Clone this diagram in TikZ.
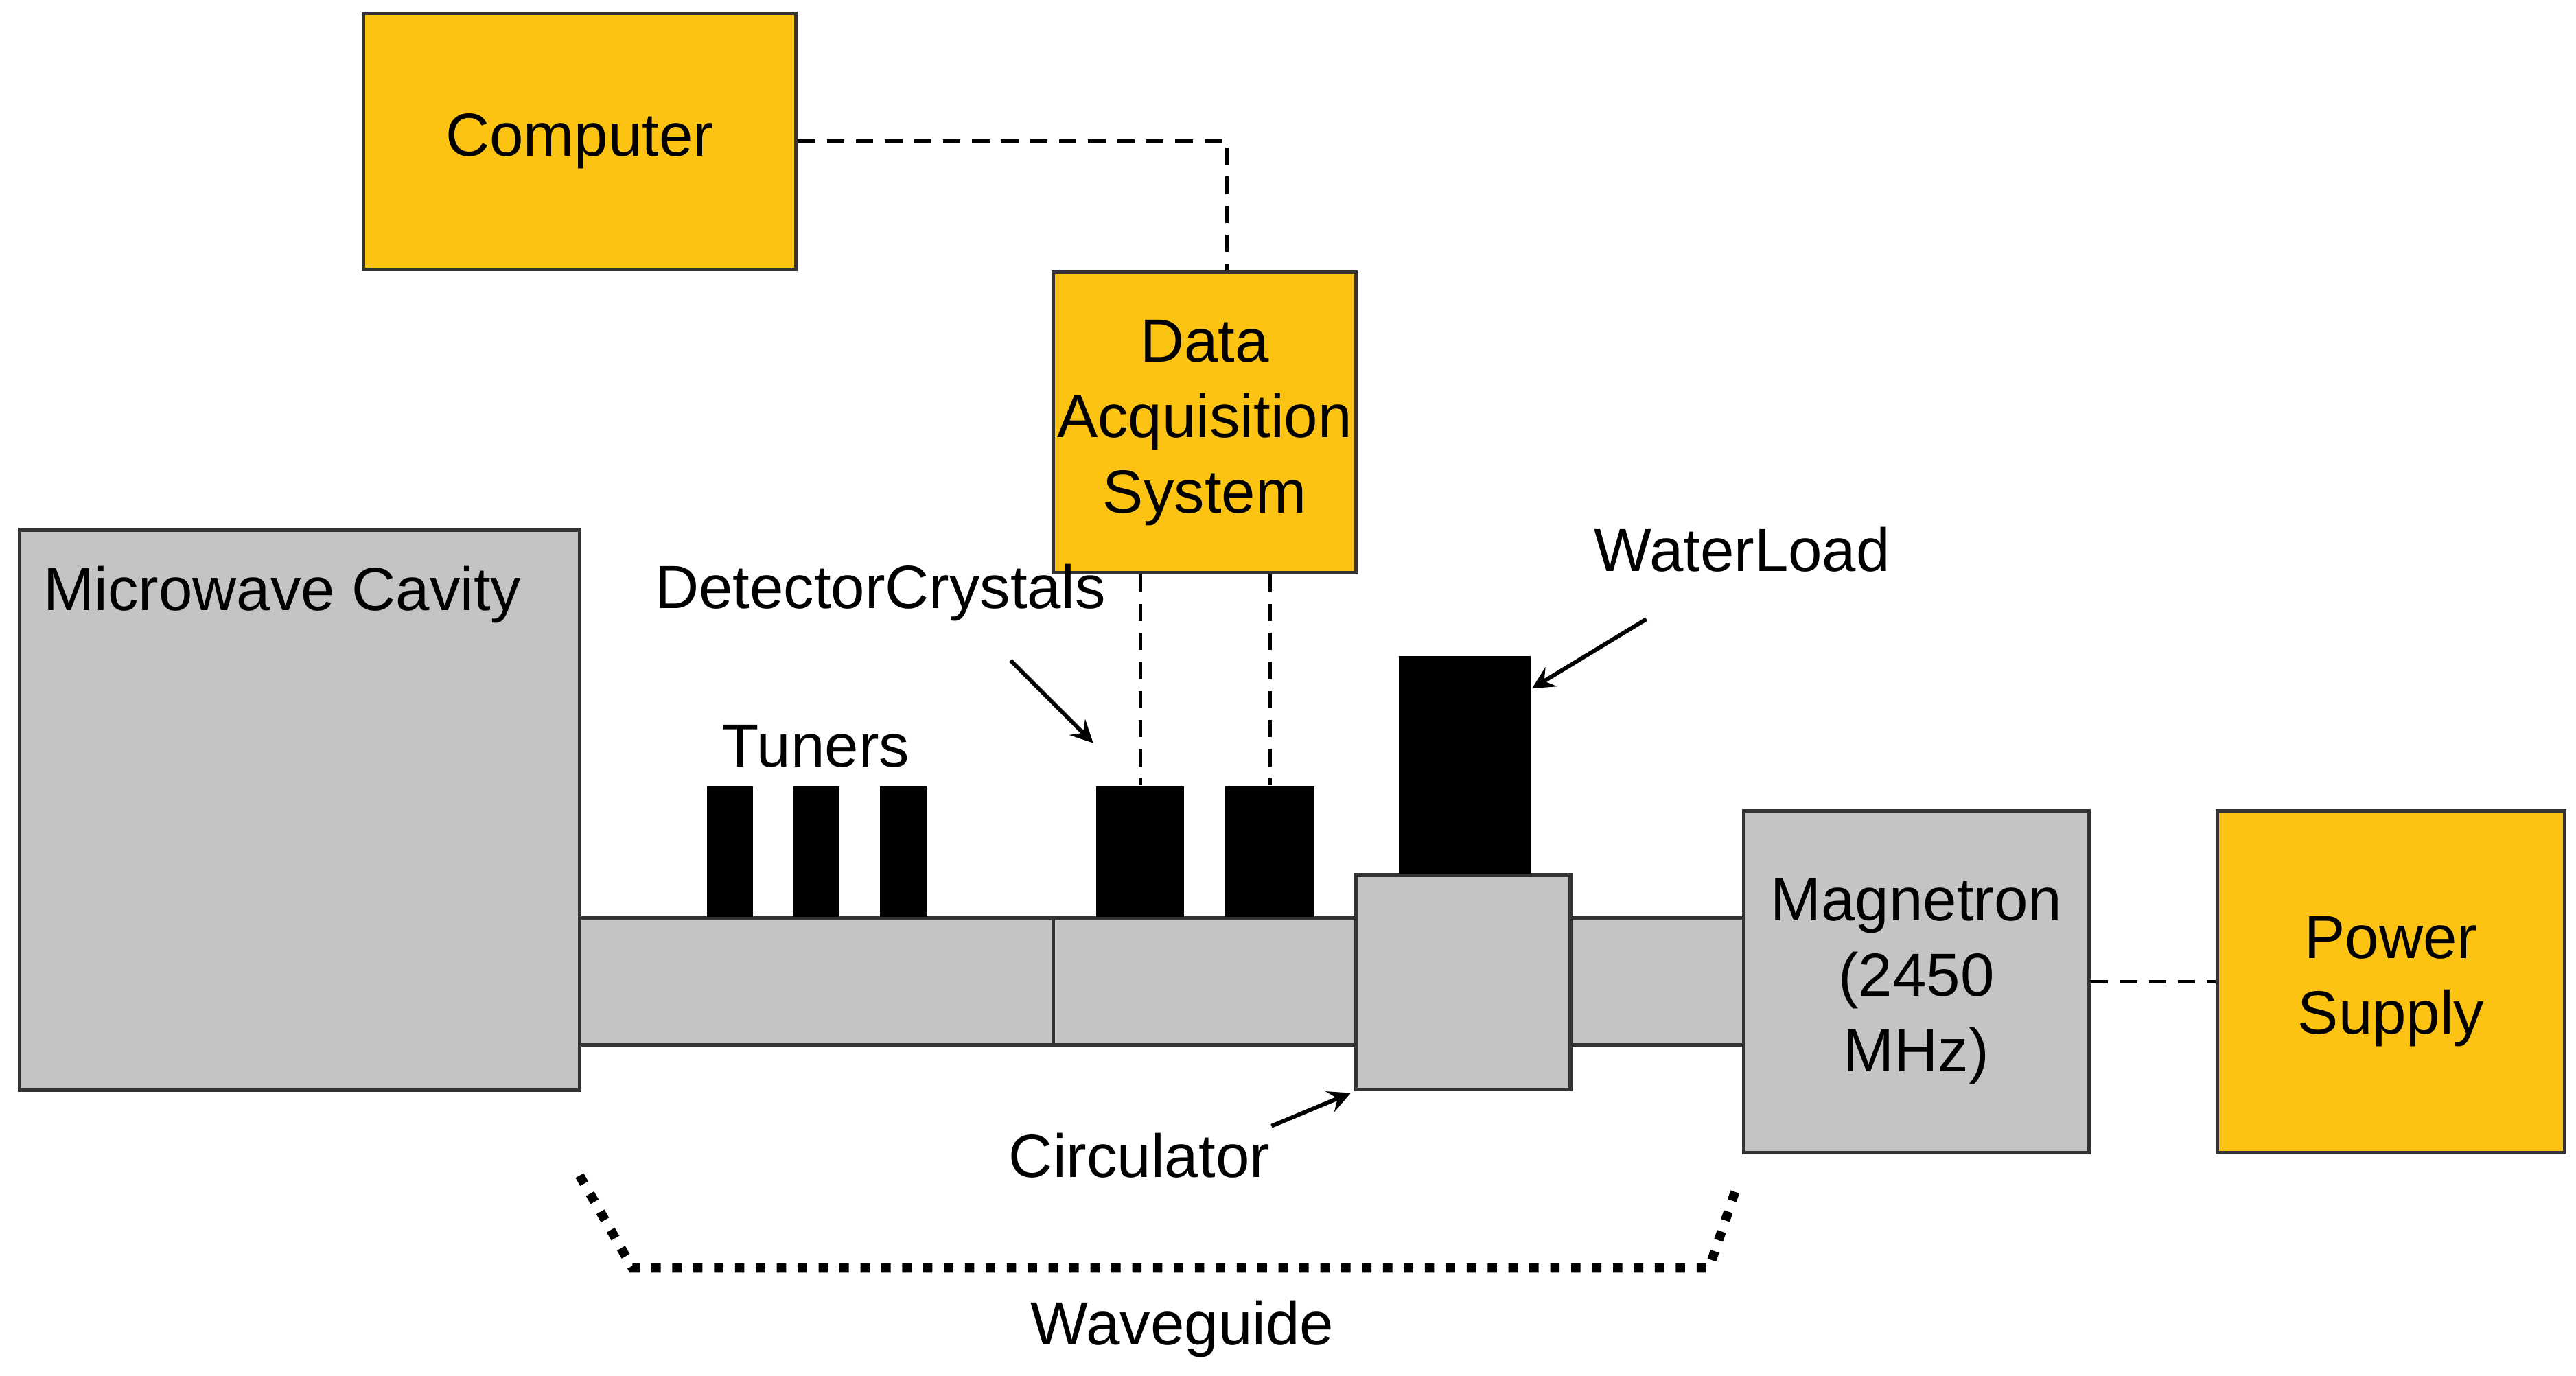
\documentclass[tikz,border=0pt]{standalone}
\usepackage{fontspec}
\setmainfont{Liberation Sans}
\usetikzlibrary{positioning}
\definecolor{unitgold}{RGB}{252,195,18}
\definecolor{partgray}{RGB}{196,196,196}

\begin{document}
\begin{tikzpicture}[x=0.01cm,y=-0.01cm,font=\fontsize{10.5}{13}\selectfont]
  \tikzstyle{block}=[draw=black!80,line width=0.6pt,inner sep=0pt,align=center]
  \tikzstyle{unit}=[block,fill=unitgold]
  \tikzstyle{part}=[block,fill=partgray]
  \tikzstyle{stub}=[fill=black,inner sep=0pt]
  \tikzstyle{signal}=[densely dashed,line width=0.6pt]
  \tikzstyle{pointer}=[->,>=stealth,line width=0.7pt]

  \useasboundingbox (0,0) rectangle (1560,833);

  % Yellow units
  \node[unit,minimum width=2.62cm,minimum height=1.55cm] (computer) at (351,85.5) {Computer};
  \node[unit,minimum width=1.83cm,minimum height=1.82cm] (daq) at (729.5,256) {Data\\Acquisition\\System};
  \node[unit,minimum width=2.10cm,minimum height=2.07cm] (power) at (1448,594.5) {Power\\Supply};

  % Gray parts
  \node[part,minimum width=3.39cm,minimum height=3.39cm] (cavity) at (181.5,490.5) {};
  \node[anchor=west] at (14,360) {Microwave Cavity};
  \node[part,minimum width=2.87cm,minimum height=0.77cm] (guide1) at (494.5,594.5) {};
  \node[part,minimum width=1.83cm,minimum height=0.77cm] (guide2) at (729.5,594.5) {};
  \node[part,minimum width=1.05cm,minimum height=0.77cm] (guide3) at (1003.5,594.5) {};
  \node[part,minimum width=1.30cm,minimum height=1.30cm] (circulator) at (886,595) {};
  \node[part,minimum width=2.09cm,minimum height=2.07cm] (magnetron) at (1160.5,594.5) {Magnetron\\(2450\\MHz)};

  % Tuners, crystals, load
  \foreach \name / \x in {1/442,2/494.5,3/547}
  \node[stub,minimum width=0.28cm,minimum height=0.79cm,anchor=south] (T-\name) at (\x,556) {};
  \node[stub,minimum width=0.53cm,minimum height=0.79cm,anchor=south] (D-1) at (690.5,556) {};
  \node[stub,minimum width=0.54cm,minimum height=0.79cm,anchor=south] (D-2) at (769,556) {};
  \node[stub,minimum width=0.80cm,minimum height=1.32cm,anchor=south] (load) at (887,530) {};

  % Labels
  \node (tunerlabel) at (494,452) {Tuners};
  \node (crystallabel) at (533,359) {Detector\\Crystals};
  \node (loadlabel) at (1055,333) {Water\\Load};
  \node (circlabel) at (690,700) {Circulator};
  \node (guidelabel) at (716,805) {Waveguide};

  % Signal lines
  \draw[signal] (computer.east) -| (daq.north -| 743,0);
  \draw[signal] (daq.south -| D-1) -- (D-1.north);
  \draw[signal] (daq.south -| D-2) -- (D-2.north);
  \draw[signal] (magnetron.east) -- (power.west);

  % Pointers
  \coordinate (crystaltail) at (612,400);
  \coordinate (loadtail) at (997,375);
  \coordinate (circtail) at (770,682);
  \draw[pointer] (crystaltail) -- (662,450);
  \draw[pointer] (loadtail) -- (load.east |- 0,417);
  \draw[pointer] (circtail) -- (818,662);

  % Waveguide span
  \draw[dotted,line width=1.6pt] (351,712) -- (383,768) -- (1035,768) -- (1052,718);
\end{tikzpicture}
\end{document}
